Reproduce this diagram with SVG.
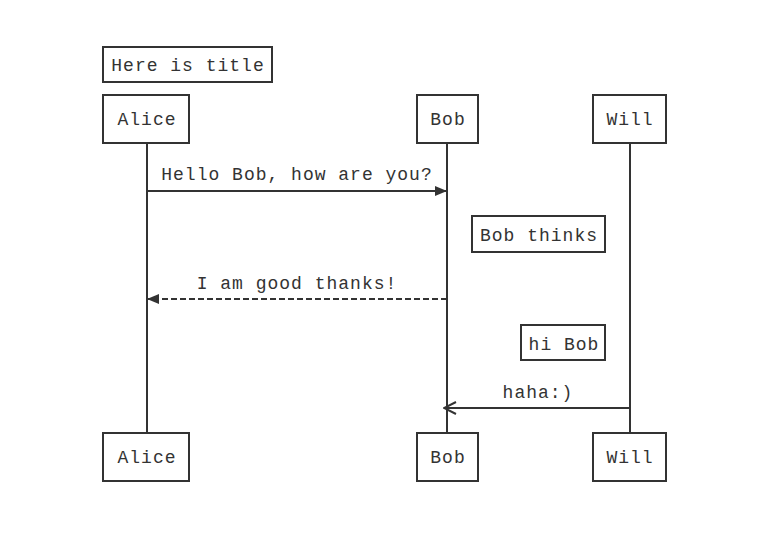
<svg xmlns="http://www.w3.org/2000/svg" width="764" height="548" viewBox="0 0 764 548">
<style>
.box{fill:#fff;stroke:#333;stroke-width:2}
.life{stroke:#333;stroke-width:2}
.msg{stroke:#333;stroke-width:2;fill:none}
text{font-family:"Liberation Mono","Courier New",monospace;font-size:18px;fill:#333;text-anchor:middle;letter-spacing:1px}
</style>
<defs>
<marker id="filled" viewBox="0 0 12 12" markerWidth="12" markerHeight="12" refX="12" refY="6" orient="auto" markerUnits="userSpaceOnUse">
<path d="M0,1 L12,6 L0,11 Z" fill="#333"/>
</marker>
<marker id="open" viewBox="0 0 14 14" markerWidth="14" markerHeight="14" refX="13" refY="7" orient="auto" markerUnits="userSpaceOnUse">
<path d="M1,1 L13,7 L1,13" fill="none" stroke="#333" stroke-width="2"/>
</marker>
</defs>
<rect width="764" height="548" fill="#fff"/>
<g id="title"><rect class="box" x="103" y="47" width="169" height="35"/><text x="188" y="71">Here is title</text></g>
<g id="lifelines">
<line class="life" x1="147" y1="143" x2="147" y2="433"/>
<line class="life" x1="447" y1="143" x2="447" y2="433"/>
<line class="life" x1="630" y1="143" x2="630" y2="433"/>
</g>
<g id="alice-top"><rect class="box" x="103" y="95" width="86" height="48"/><text x="147" y="125">Alice</text></g>
<g id="bob-top"><rect class="box" x="417" y="95" width="61" height="48"/><text x="448" y="125">Bob</text></g>
<g id="will-top"><rect class="box" x="593" y="95" width="73" height="48"/><text x="630" y="125">Will</text></g>
<g id="alice-bottom"><rect class="box" x="103" y="433" width="86" height="48"/><text x="147" y="463">Alice</text></g>
<g id="bob-bottom"><rect class="box" x="417" y="433" width="61" height="48"/><text x="448" y="463">Bob</text></g>
<g id="will-bottom"><rect class="box" x="593" y="433" width="73" height="48"/><text x="630" y="463">Will</text></g>
<g id="note-bob-thinks"><rect class="box" x="472" y="216" width="133" height="36"/><text x="539" y="241">Bob thinks</text></g>
<g id="note-hi-bob"><rect class="box" x="521" y="325" width="84" height="35"/><text x="564" y="350">hi Bob</text></g>
<g id="connectors">
<line class="msg" x1="147" y1="191" x2="447" y2="191" marker-end="url(#filled)"/>
<text x="297" y="180">Hello Bob, how are you?</text>
<line class="msg" x1="447" y1="299" x2="147" y2="299" stroke-dasharray="6,3" marker-end="url(#filled)"/>
<text x="297" y="289">I am good thanks!</text>
<line class="msg" x1="630" y1="408" x2="444" y2="408" marker-end="url(#open)"/>
<text x="538" y="398">haha:)</text>
</g>
</svg>
